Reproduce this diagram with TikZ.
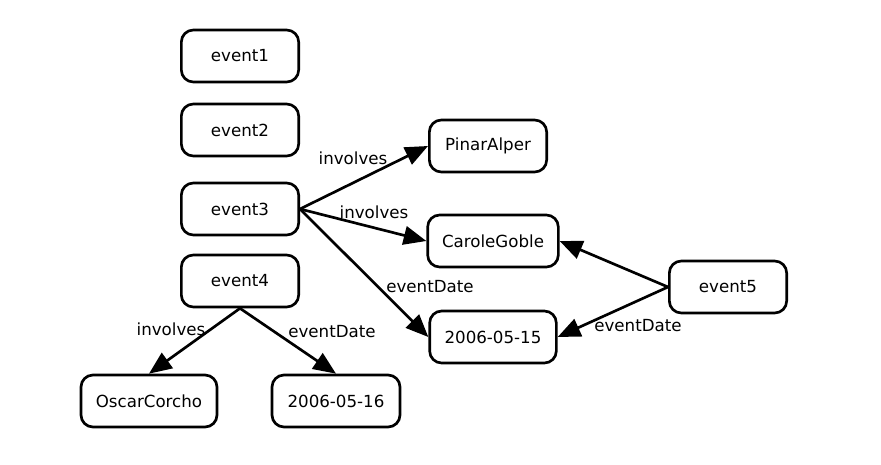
\documentclass[tikz,border=0pt]{standalone}
\usepackage{fontspec}
\setmainfont{DejaVu Sans}
\usetikzlibrary{arrows.meta}
\tikzset{
  item/.style={rectangle, rounded corners=9pt, draw=black, fill=white,
               line width=2pt, minimum width=88pt, minimum height=39pt,
               inner sep=2pt, font=\fontsize{12.5}{14}\selectfont},
  rel/.style={-{Triangle[length=17pt, width=14pt]}, line width=2pt, draw=black},
  rellabel/.style={font=\fontsize{12.5}{14}\selectfont, inner sep=1pt},
}

\begin{document}
\begin{tikzpicture}[x=0.75pt, y=-0.75pt]
  \useasboundingbox (0,0) rectangle (881,464);

  % --- events -------------------------------------------------------------
  \node[item] (event1) at (240,56) {event1};
  \node[item] (event2) at (240,130) {event2};
  \node[item] (event3) at (240,209) {event3};
  \node[item] (event4) at (240,281) {event4};
  \node[item] (event5) at (728,287) {event5};

  % --- people and dates ---------------------------------------------------
  \node[item] (pinar) at (488,146) {PinarAlper};
  \node[item, minimum width=98pt] (carole) at (493,241) {CaroleGoble};
  \node[item, minimum width=95pt] (date15) at (493,337) {2006-05-15};
  \node[item, minimum width=102pt] (oscar) at (149,401) {OscarCorcho};
  \node[item, minimum width=96pt] (date16) at (336,401) {2006-05-16};

  % --- properties ---------------------------------------------------------
  \draw[rel] (event3.east) -- (pinar.west);
  \draw[rel] (event3.east) -- (carole.west);
  \draw[rel] (event3.east) -- (date15.west);
  \draw[rel] (event4.south) -- (oscar.north);
  \draw[rel] (event4.south) -- (date16.north);
  \draw[rel] (event5.west) -- (carole.east);
  \draw[rel] (event5.west) -- (date15.east);

  \node[rellabel] (lab-inv1) at (353,158) {involves};
  \node[rellabel] (lab-inv2) at (374,212) {involves};
  \node[rellabel] (lab-date1) at (430,287) {eventDate};
  \node[rellabel] (lab-inv3) at (171,329) {involves};
  \node[rellabel] (lab-date2) at (332,332) {eventDate};
  \node[rellabel] (lab-date3) at (638,326) {eventDate};

\end{tikzpicture}
\end{document}
